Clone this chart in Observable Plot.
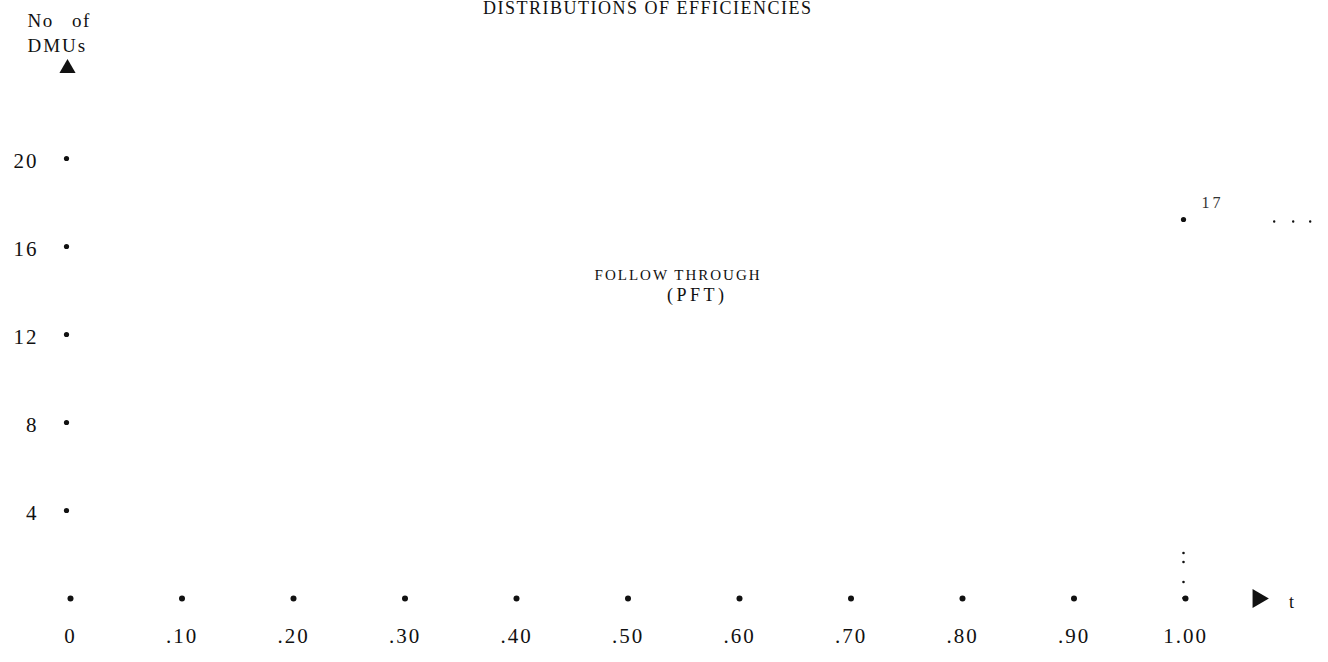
<!DOCTYPE html>
<html>
<head>
<meta charset="utf-8">
<script src="https://cdn.jsdelivr.net/npm/d3@7"></script>
<script src="https://cdn.jsdelivr.net/npm/@observablehq/plot@0.6"></script>
<style>
  html, body { margin: 0; padding: 0; background: #fff; }
  #chart svg { display: block; }
</style>
</head>
<body>
<div id="chart"></div>
<script>
// Efficiency classes (t) and their tick labels
const tValues = [0, 0.1, 0.2, 0.3, 0.4, 0.5, 0.6, 0.7, 0.8, 0.9, 1.0];
const tLabels = ["0", ".10", ".20", ".30", ".40", ".50", ".60", ".70", ".80", ".90", "1.00"];
// Number of DMUs ticks
const countTicks = [4, 8, 12, 16, 20];
const countLabels = ["4", "8", "12", "16", "20"];
// Distribution of efficiencies: only the class t = 1.00 is populated
const bins = [1.0];
const counts = [17];

const serif = "Liberation Serif, DejaVu Serif, serif";
const ink = "#111";

const chart = Plot.plot({
  width: 1328,
  height: 662,
  marginLeft: 70,
  marginRight: 143,
  marginTop: 158,
  marginBottom: 64,
  x: {domain: [0, 1]},
  y: {domain: [0, 20]},
  style: {background: "white", overflow: "visible", fontFamily: serif},
  marks: [
    // axis tick labels
    Plot.axisX({ticks: tValues, tickFormat: (d, i) => tLabels[i], tickSize: 0, tickPadding: 30,
      fontSize: 21, fontFamily: serif, fill: ink, label: null}),
    Plot.axisY({ticks: countTicks, tickFormat: (d, i) => countLabels[i], tickSize: 0, tickPadding: 32,
      dy: 3, fontSize: 21, fontFamily: serif, fill: ink, label: null}),
    // dotted tick marks on both axes
    Plot.dot(tValues, {x: d => d, y: 0, r: 3, fill: ink, stroke: null}),
    Plot.dot(countTicks, {x: 0, y: d => d, r: 2.6, fill: ink, stroke: null, dx: -4}),
    // axis arrows
    Plot.dot([24.1], {x: 0, y: d => d, symbol: "triangle", r: 6, fill: ink, stroke: null, dx: -3}),
    Plot.dot([0], {x: 1.065, y: d => d, symbol: "triangle", r: 7, rotate: 90, fill: ink, stroke: null}),
    Plot.text(["t"], {x: 1.095, y: 0, text: d => d, fontSize: 18, fontFamily: serif, fill: ink, dy: 4}),
    Plot.text(["No of"], {x: 0, y: 26.27, text: d => d, textAnchor: "start", dx: -43,
      fontSize: 19, fontFamily: serif, fill: ink}),
    Plot.text(["DMUs"], {x: 0, y: 25.1, text: d => d, textAnchor: "start", dx: -43,
      fontSize: 19, fontFamily: serif, fill: ink}),
    // title
    Plot.text(["DISTRIBUTIONS OF EFFICIENCIES"], {x: 0.37, y: 26.85, text: d => d, textAnchor: "start",
      fontSize: 18, fontFamily: serif, fill: ink}),
    Plot.text(["FOLLOW THROUGH"], {x: 0.47, y: 14.7, text: d => d, textAnchor: "start",
      fontSize: 15, fontFamily: serif, fill: ink}),
    Plot.text(["(PFT)"], {x: 0.535, y: 13.78, text: d => d, textAnchor: "start",
      fontSize: 18, fontFamily: serif, fill: ink}),
    // the populated class: faded dotted bar at t = 1.00
    Plot.ruleX(bins, {x: d => d, y1: 0, y2: (d, i) => counts[i], stroke: ink, strokeWidth: 2.6,
      strokeLinecap: "round", strokeDasharray: "0 16 0 20 0 9 0 2000", dx: -2}),
    Plot.dot(bins, {x: d => d, y: (d, i) => counts[i], r: 2.6, fill: ink, stroke: null, dx: -2, dy: -5}),
    Plot.text(bins, {x: d => d, y: (d, i) => counts[i], text: (d, i) => String(counts[i]), fontSize: 16,
      fontFamily: serif, fill: "#333", dx: 27, dy: -22}),
    Plot.ruleY(counts, {x1: 1.08, x2: 1.12, y: d => d, stroke: ink, strokeWidth: 2.4, strokeLinecap: "round",
      strokeDasharray: "0 19 0 17", dy: -3})
  ]
});
// letter spacing of the typewritten labels (a style, looked up by the text they carry)
const spacing = {"No of": ["1.5px", "12px"], "DMUs": ["2px", "0"], "DISTRIBUTIONS OF EFFICIENCIES": ["1.5px", "0"],
  "FOLLOW THROUGH": ["2px", "0"], "(PFT)": ["3.5px", "0"], "17": ["3px", "0"]};
d3.select(chart).selectAll("text").each(function () {
  const s = spacing[this.textContent];
  if (s) { this.style.letterSpacing = s[0]; this.style.wordSpacing = s[1]; }
});
d3.select(chart).selectAll("g[aria-label='x-axis tick label'] text, g[aria-label='y-axis tick label'] text")
  .style("letter-spacing", "2px");
document.getElementById("chart").append(chart);
</script>
</body>
</html>
